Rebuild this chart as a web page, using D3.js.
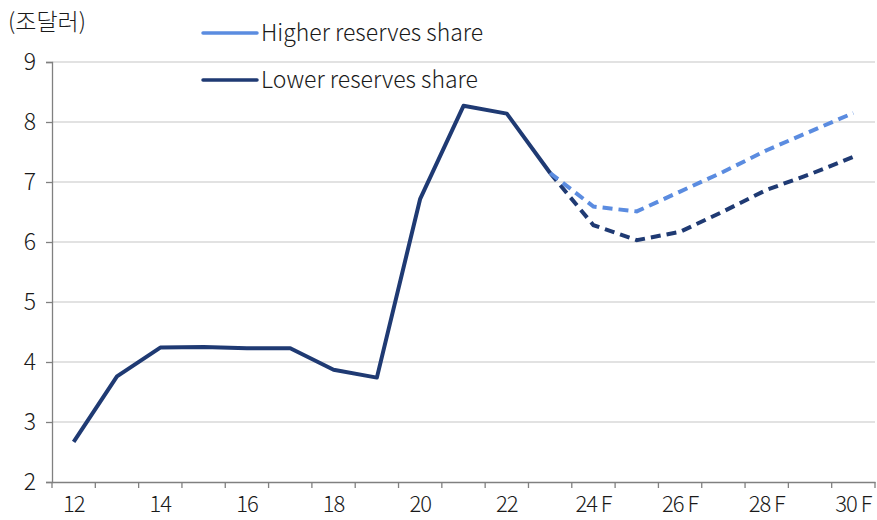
<!DOCTYPE html>
<html><head><meta charset="utf-8">
<script src="https://cdn.jsdelivr.net/npm/d3@7"></script>
<style>body{margin:0;background:#fff}svg{display:block}text{font-family:"Noto Sans CJK KR","Noto Sans",sans-serif;font-weight:300;fill:#1a1a1a}</style>
</head><body><svg id="c" width="877" height="520"></svg>
<script>
const categories = ["12","13","14","15","16","17","18","19","20","21","22","23","24 F","25 F","26 F","27 F","28 F","29 F","30 F"];
const tickLabels = ["12","14","16","18","20","22","24 F","26 F","28 F","30 F"];
const actual = [2.67,3.76,4.24,4.25,4.23,4.23,3.87,3.74,6.72,8.27,8.14,7.15,null,null,null,null,null,null,null];
const higherShare = [null,null,null,null,null,null,null,null,null,null,null,7.15,6.59,6.51,6.84,7.17,7.53,7.84,8.15];
const lowerShare  = [null,null,null,null,null,null,null,null,null,null,null,7.15,6.28,6.03,6.17,6.51,6.87,7.13,7.42];
const yTicks = [2,3,4,5,6,7,8,9];
const unitLabel = "(조달러)";
const legendNames = ["Higher reserves share","Lower reserves share"];

const colDark = "#1f3a73", colLight = "#5b8ce0";
const svg = d3.select("#c");
const m = {l:52, r:875, t:62, b:482};
const x = d3.scaleBand().domain(categories).range([m.l, m.r]).padding(0);
const y = d3.scaleLinear().domain([2,9]).range([m.b, m.t]);
const cx = c => x(c) + x.bandwidth()/2;

// gridlines
svg.append("g").selectAll("line").data(yTicks.filter(v=>v>2)).join("line")
  .attr("x1", m.l).attr("x2", m.r).attr("y1", d=>y(d)).attr("y2", d=>y(d))
  .attr("stroke", "#d9d9d9").attr("stroke-width", 1.3);

// y axis
const ya = svg.append("g").attr("transform", `translate(${m.l},0)`)
  .call(d3.axisLeft(y).tickValues(yTicks).tickSize(6).tickPadding(10).tickFormat(d3.format("d")));
ya.select(".domain").attr("stroke", "#808080").attr("stroke-width", 1.3);
ya.selectAll(".tick line").attr("stroke", "#808080").attr("stroke-width", 1.3);
ya.selectAll("text").attr("font-size", 23).style("fill", "#1a1a1a");

// x axis
const xa = svg.append("g").attr("transform", `translate(0,${m.b})`)
  .call(d3.axisBottom(x).tickSize(0).tickPadding(14).tickFormat(d => tickLabels.includes(d) ? d : ""));
xa.select(".domain").attr("stroke", "#808080").attr("stroke-width", 1.3);
xa.selectAll("text").attr("font-size", 22).style("fill", "#1a1a1a").attr("letter-spacing", "-1");
// band boundary ticks
const bounds = categories.map(c => x(c)).concat([m.r]);
svg.append("g").selectAll("line").data(bounds).join("line")
  .attr("x1", d=>d).attr("x2", d=>d).attr("y1", m.b).attr("y2", m.b+6)
  .attr("stroke", "#808080").attr("stroke-width", 1.3);

const line = d3.line().defined(d => d[1] != null).x(d => cx(d[0])).y(d => y(d[1]));
const pts = arr => categories.map((c,i) => [c, arr[i]]);

svg.append("path").datum(pts(lowerShare)).attr("d", line).attr("fill","none")
  .attr("stroke", colDark).attr("stroke-width", 4).attr("stroke-dasharray", "10,6");
svg.append("path").datum(pts(higherShare)).attr("d", line).attr("fill","none")
  .attr("stroke", colLight).attr("stroke-width", 4).attr("stroke-dasharray", "10,6");
svg.append("path").datum(pts(actual)).attr("d", line).attr("fill","none")
  .attr("stroke", colDark).attr("stroke-width", 4).attr("stroke-linejoin","round");

// unit label
svg.append("text").attr("x", 8).attr("y", 30).attr("font-size", 23).text(unitLabel);

// legend
const lg = svg.append("g").selectAll("g").data(legendNames).join("g")
  .attr("transform", (d,i) => `translate(203,${33 + i*47})`);
lg.append("line").attr("x1", 0).attr("x2", 54).attr("y1", 0).attr("y2", 0)
  .attr("stroke", (d,i) => i===0 ? colLight : colDark).attr("stroke-width", 3.5).attr("stroke-linecap","round");
lg.append("text").attr("x", 58).attr("y", 0).attr("dy", "0.36em").attr("font-size", 23).text(d => d);
</script></body></html>
